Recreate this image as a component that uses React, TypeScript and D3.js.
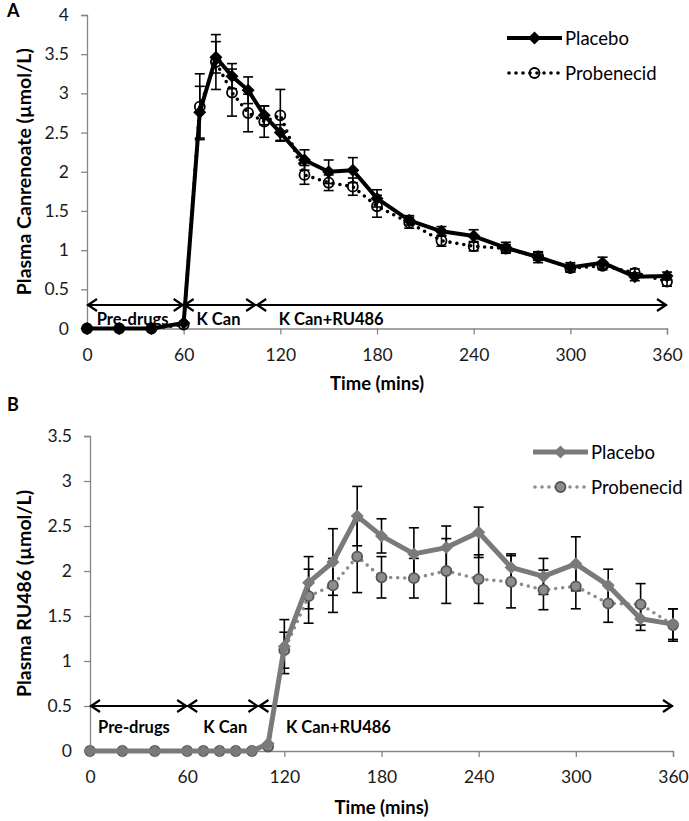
import { useEffect, useRef } from 'react'
import * as d3 from 'd3'

// sampling times (mins), shared by both panels
const times = [0, 20, 40, 60, 70, 80, 90, 100, 110, 120, 135, 150, 165, 180, 200, 220, 240, 260, 280, 300, 320, 340, 360]
const xTicks = [0, 60, 120, 180, 240, 300, 360]
const yTicksA = [0, 0.5, 1, 1.5, 2, 2.5, 3, 3.5, 4]
const yTicksB = [0, 0.5, 1, 1.5, 2, 2.5, 3, 3.5]
const seriesNames = ['Placebo', 'Probenecid']

// panel A: plasma canrenoate
const placeboA = [0, 0, 0, 0.07, 2.76, 3.46, 3.22, 3.04, 2.72, 2.5, 2.15, 2.0, 2.02, 1.66, 1.38, 1.24, 1.18, 1.03, 0.91, 0.78, 0.84, 0.66, 0.67]
const placeboErrA = [0, 0, 0, 0.03, 0.33, 0.2, 0.16, 0.17, 0.12, 0.1, 0.13, 0.15, 0.16, 0.11, 0.06, 0.06, 0.08, 0.07, 0.07, 0.06, 0.07, 0.05, 0.05]
const probenecidA = [0, 0, 0, 0.05, 2.83, 3.4, 3.01, 2.75, 2.64, 2.72, 1.96, 1.86, 1.81, 1.56, 1.35, 1.12, 1.05, 1.02, 0.92, 0.77, 0.8, 0.71, 0.6]
const probenecidErrA = [0, 0, 0, 0.03, 0.42, 0.35, 0.3, 0.24, 0.2, 0.33, 0.12, 0.1, 0.11, 0.14, 0.07, 0.07, 0.06, 0.05, 0.05, 0.05, 0.05, 0.05, 0.06]

// panel B: plasma RU486
const placeboB = [0, 0, 0, 0, 0, 0, 0, 0, 0.08, 1.16, 1.87, 2.1, 2.61, 2.39, 2.19, 2.26, 2.43, 2.04, 1.94, 2.08, 1.84, 1.47, 1.41]
const placeboErrB = [0, 0, 0, 0, 0, 0, 0, 0, 0.03, 0.3, 0.29, 0.37, 0.33, 0.19, 0.29, 0.24, 0.28, 0.15, 0.2, 0.3, 0.18, 0.13, 0.17]
const probenecidB = [0, 0, 0, 0, 0, 0, 0, 0, 0.05, 1.12, 1.72, 1.84, 2.16, 1.93, 1.92, 2.0, 1.91, 1.88, 1.79, 1.83, 1.64, 1.63, 1.4]
const probenecidErrB = [0, 0, 0, 0, 0, 0, 0, 0, 0.02, 0.2, 0.3, 0.3, 0.4, 0.23, 0.22, 0.36, 0.27, 0.29, 0.22, 0.25, 0.21, 0.23, 0.18]

// dosing phases (start, end in mins) and where the label starts
const phaseLabels = ['Pre-drugs', 'K Can', 'K Can+RU486']
const phaseStartsA = [0, 60, 105]
const phaseEndsA = [60, 105, 360]
const phaseTextA = [6, 68, 119]
const phaseStartsB = [0, 60, 104]
const phaseEndsB = [60, 104, 360]
const phaseTextB = [5, 70, 121]

const FONT = 'Lato, "Open Sans", sans-serif'

type PanelOpts = {
  letter: string
  letterY: number
  yTitle: string
  yTicks: number[]
  yMax: number
  xRange: [number, number]
  yRange: [number, number]
  xTitleY: number
  placebo: number[]
  placeboErr: number[]
  probenecid: number[]
  probenecidErr: number[]
  lineColor: string
  dotColor: string
  markerFill: string
  circleFill: string
  circleStroke: string
  lineWidth: number
  arrowValue: number
  labelY: number
  phaseStarts: number[]
  phaseEnds: number[]
  phaseText: number[]
  legendX: number
  legendY: number
}

function drawPanel(svg: any, o: PanelOpts) {
  const x = d3.scaleLinear().domain([0, 360]).range(o.xRange)
  const y = d3.scaleLinear().domain([0, o.yMax]).range(o.yRange)
  const g = svg.append('g')
  const axisColor = '#868686'

  g.append('text').attr('x', 7).attr('y', o.letterY)
    .attr('font-family', FONT).attr('font-weight', 700).attr('font-size', 18).text(o.letter)

  // y axis
  const ya = g.append('g').attr('transform', `translate(${o.xRange[0]},0)`)
    .call(d3.axisLeft(y).tickValues(o.yTicks).tickSize(6).tickFormat((d: any) => String(d)))
  ya.select('.domain').attr('stroke', axisColor).attr('stroke-width', 1.3)
  ya.selectAll('line').attr('stroke', axisColor).attr('stroke-width', 1.3)
  ya.selectAll('text').attr('font-family', FONT).attr('font-size', 17.5).attr('fill', '#1a1a1a').attr('x', -18)

  // x axis
  const xa = g.append('g').attr('transform', `translate(0,${o.yRange[0]})`)
    .call(d3.axisBottom(x).tickValues(xTicks).tickSize(6).tickFormat((d: any) => String(d)))
  xa.select('.domain').attr('stroke', axisColor).attr('stroke-width', 1.3)
  xa.selectAll('line').attr('stroke', axisColor).attr('stroke-width', 1.3)
  xa.selectAll('text').attr('font-family', FONT).attr('font-size', 17.5).attr('fill', '#1a1a1a').attr('y', 20)

  // axis titles
  const yMid = (o.yRange[0] + o.yRange[1]) / 2
  g.append('text').attr('transform', `translate(31,${yMid}) rotate(-90)`)
    .attr('text-anchor', 'middle').attr('font-family', FONT).attr('font-weight', 700).attr('font-size', 19.5)
    .text(o.yTitle)
  g.append('text').attr('x', (o.xRange[0] + o.xRange[1]) / 2).attr('y', o.xTitleY)
    .attr('text-anchor', 'middle').attr('font-family', FONT).attr('font-weight', 700).attr('font-size', 18.5)
    .text('Time (mins)')

  // phase arrows
  const ay = y(o.arrowValue)
  phaseLabels.forEach((lab, i) => {
    const x1 = x(o.phaseStarts[i])
    const x2 = x(o.phaseEnds[i])
    const ah = g.append('g').attr('stroke', '#000').attr('stroke-width', 2.2).attr('fill', 'none')
    ah.append('line').attr('x1', x1).attr('x2', x2).attr('y1', ay).attr('y2', ay)
    ah.append('path').attr('d', `M${x1 + 10},${ay - 6}L${x1 + 1},${ay}L${x1 + 10},${ay + 6}`)
    ah.append('path').attr('d', `M${x2 - 10},${ay - 6}L${x2 - 1},${ay}L${x2 - 10},${ay + 6}`)
    g.append('text').attr('x', x(o.phaseText[i])).attr('y', o.labelY)
      .attr('font-family', FONT).attr('font-weight', 700).attr('font-size', 16.5).text(lab)
  })

  const idx = d3.range(times.length)
  const diamond = (r: number) => `M0,${-r}L${r},0L0,${r}L${-r},0Z`

  const errBars = (vals: number[], errs: number[]) => {
    const eb = g.append('g').attr('stroke', '#000').attr('stroke-width', 1.6)
    idx.filter(i => errs[i] > 0.04).forEach(i => {
      const cx = x(times[i])
      const t = y(vals[i] + errs[i])
      const b = y(vals[i] - errs[i])
      eb.append('line').attr('x1', cx).attr('x2', cx).attr('y1', t).attr('y2', b)
      eb.append('line').attr('x1', cx - 5).attr('x2', cx + 5).attr('y1', t).attr('y2', t)
      eb.append('line').attr('x1', cx - 5).attr('x2', cx + 5).attr('y1', b).attr('y2', b)
    })
  }

  errBars(o.probenecid, o.probenecidErr)
  errBars(o.placebo, o.placeboErr)

  const line = d3.line<number>().x(i => x(times[i])).y(i => y(o.probenecid[i]))
  g.append('path').attr('d', line(idx)).attr('fill', 'none').attr('stroke', o.dotColor)
    .attr('stroke-width', 3.6).attr('stroke-linecap', 'round').attr('stroke-dasharray', '0 7')
  g.selectAll(null).data(idx).enter().append('circle')
    .attr('cx', (i: number) => x(times[i])).attr('cy', (i: number) => y(o.probenecid[i])).attr('r', 5)
    .attr('fill', o.circleFill).attr('stroke', o.circleStroke).attr('stroke-width', 1.8)

  const line2 = d3.line<number>().x(i => x(times[i])).y(i => y(o.placebo[i]))
  g.append('path').attr('d', line2(idx)).attr('fill', 'none').attr('stroke', o.lineColor)
    .attr('stroke-width', o.lineWidth).attr('stroke-linejoin', 'round')
  g.selectAll(null).data(idx).enter().append('path')
    .attr('transform', (i: number) => `translate(${x(times[i])},${y(o.placebo[i])})`)
    .attr('d', diamond(6.5)).attr('fill', o.markerFill)

  // legend
  const lg = g.append('g').attr('transform', `translate(${o.legendX},${o.legendY})`)
  lg.append('line').attr('x1', 0).attr('x2', 55).attr('y1', 0).attr('y2', 0)
    .attr('stroke', o.lineColor).attr('stroke-width', o.lineWidth)
  lg.append('path').attr('transform', 'translate(27.5,0)').attr('d', diamond(6.5)).attr('fill', o.markerFill)
  lg.append('text').attr('x', 58).attr('y', 6.5).attr('font-family', FONT).attr('font-size', 18.5).text(seriesNames[0])
  lg.append('line').attr('x1', 2).attr('x2', 55).attr('y1', 35).attr('y2', 35)
    .attr('stroke', o.dotColor).attr('stroke-width', 3.6).attr('stroke-linecap', 'round').attr('stroke-dasharray', '0 7')
  lg.append('circle').attr('cx', 27.5).attr('cy', 35).attr('r', 5)
    .attr('fill', o.circleFill).attr('stroke', o.circleStroke).attr('stroke-width', 1.8)
  lg.append('text').attr('x', 58).attr('y', 41.5).attr('font-family', FONT).attr('font-size', 18.5).text(seriesNames[1])
}

export default function App() {
  const svgRef = useRef<SVGSVGElement>(null)

  useEffect(() => {
    const svg = d3.select(svgRef.current)
    svg.selectAll('*').remove()
    svg.append('rect').attr('width', 689).attr('height', 821).attr('fill', '#fff')

    drawPanel(svg, {
      letter: 'A', letterY: 17, yTitle: 'Plasma Canrenoate (µmol/L)', yTicks: yTicksA, yMax: 4,
      xRange: [87, 667], yRange: [328.5, 15], xTitleY: 390,
      placebo: placeboA, placeboErr: placeboErrA, probenecid: probenecidA, probenecidErr: probenecidErrA,
      lineColor: '#000', dotColor: '#000', markerFill: '#000', circleFill: 'none', circleStroke: '#000',
      lineWidth: 4, arrowValue: 0.3, labelY: 325,
      phaseStarts: phaseStartsA, phaseEnds: phaseEndsA, phaseText: phaseTextA,
      legendX: 507, legendY: 38,
    })

    drawPanel(svg, {
      letter: 'B', letterY: 411, yTitle: 'Plasma RU486 (µmol/L)', yTicks: yTicksB, yMax: 3.5,
      xRange: [90, 673], yRange: [751, 436], xTitleY: 814,
      placebo: placeboB, placeboErr: placeboErrB, probenecid: probenecidB, probenecidErr: probenecidErrB,
      lineColor: '#7a7a7a', dotColor: '#8c8c8c', markerFill: '#7a7a7a', circleFill: '#8c8c8c', circleStroke: '#555',
      lineWidth: 5, arrowValue: 0.5, labelY: 733,
      phaseStarts: phaseStartsB, phaseEnds: phaseEndsB, phaseText: phaseTextB,
      legendX: 533, legendY: 452,
    })
  }, [])

  return (
    <svg
      ref={svgRef}
      width={689}
      height={821}
      style={{ position: 'absolute', left: 0, top: 0, display: 'block' }}
    />
  )
}
